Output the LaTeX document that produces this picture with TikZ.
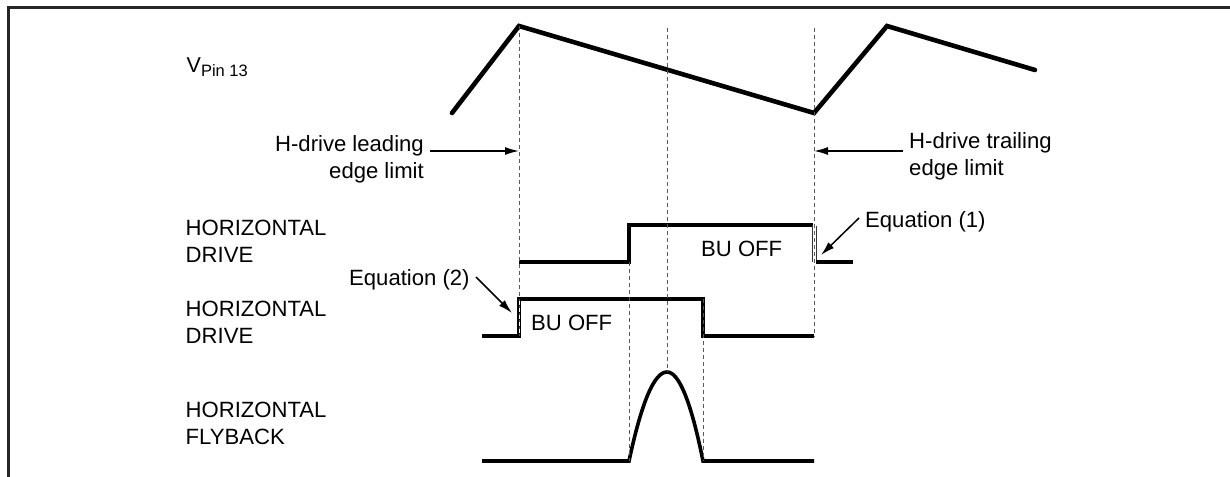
\documentclass[tikz,border=0pt]{standalone}
\usepackage{fontspec}
\setmainfont{Liberation Sans}
\usetikzlibrary{arrows.meta}
\begin{document}
\begin{tikzpicture}[x=1pt,y=-1pt,
  lbl/.style={inner sep=0pt, font=\fontsize{22.1}{26.8}\selectfont},
  wave/.style={line width=3.6pt, line join=miter},
  saw/.style={line width=4.6pt, line join=miter, line cap=round},
  guide/.style={black!65, line width=1pt, dash pattern=on 4pt off 3pt},
  arr/.style={line width=1.5pt, -{Latex[length=14pt,width=8pt]}},
  frame/.style={line width=2.2pt, black!85}]
\useasboundingbox (0,0) rectangle (1230,476);
% frame (left and top edges visible)
\draw[frame] (8.5,480) -- (8.5,7.5) -- (1234,7.5);

% guide lines
\coordinate (gA1) at (519,26);  \coordinate (gA2) at (519,336);
\coordinate (gB1) at (667,28);  \coordinate (gB2) at (667,372);
\coordinate (gC1) at (814,28);  \coordinate (gC2) at (814,337);
\coordinate (gD1) at (629,262); \coordinate (gD2) at (629,461);
\coordinate (gE1) at (703,299); \coordinate (gE2) at (703,461);

% sawtooth V pin 13
\coordinate (s0) at (452,113);
\coordinate (s1) at (519,26);
\coordinate (s2) at (814,113);
\coordinate (s3) at (887,26);
\coordinate (s4) at (1035,70);
\draw[saw] (s0) -- (s1) -- (s2) -- (s3) -- (s4);

% horizontal drive 1
\draw[wave] (519,262) -- (629,262) -- (629,225) -- (812.5,225);
\draw[line width=0.9pt, black!80] (812.5,225) -- (812.5,262);
\draw[line width=0.9pt, black!80] (816,226) -- (816,262);
\draw[wave] (816,262) -- (853,262);

% horizontal drive 2
\draw[wave] (482,336) -- (519,336) -- (519,299) -- (703,299) -- (703,336) -- (814,336);

% flyback
\draw[wave] (482,461) -- (629,461) .. controls (641.7,401.7) and (654.3,372) .. (667,372)
  .. controls (679,372) and (691,401.7) .. (703,461) -- (814,461);

% guides on top
\draw[guide] (gA1) -- (gA2);
\draw[guide] (gB1) -- (gB2);
\draw[guide] (gC1) -- (gC2);
\draw[guide] (gD1) -- (gD2);
\draw[guide] (gE1) -- (gE2);
\draw[white, line width=0.8pt, dash pattern=on 4pt off 3pt] (519,301) -- (519,334);

% labels
\node[inner sep=0pt, anchor=base west, font=\fontsize{21.5}{24}\selectfont] (vpin) at (186.5,72.7)
  {V\raisebox{-4pt}{\fontsize{16.5}{16.5}\selectfont Pin 13}};
\node[lbl, anchor=north west, align=left] (hd1) at (185.5,220) {HORIZONTAL\\DRIVE};
\node[lbl, anchor=north west, align=left] (hd2) at (185.5,301) {HORIZONTAL\\DRIVE};
\node[lbl, anchor=north west, align=left] (hfb) at (185.5,401.7) {HORIZONTAL\\FLYBACK};
\node[lbl, anchor=north east, align=right] (lead) at (424,135) {H-drive leading\\edge limit};
\node[lbl, anchor=north west, align=left] (trail) at (909,132) {H-drive trailing\\edge limit};
\node[lbl, anchor=base west] (eq1) at (865,227.5) {Equation (1)};
\node[lbl, anchor=base west] (eq2) at (349,285) {Equation (2)};
\node[lbl, anchor=base west] (bu1) at (701,256) {BU OFF};
\node[lbl, anchor=base west] (bu2) at (531,330) {BU OFF};

% arrows
\coordinate (leadT) at (430,151);  \coordinate (leadH) at (519,151);
\coordinate (trailT) at (903,151); \coordinate (trailH) at (814,151);
\coordinate (eq1T) at (859,218);   \coordinate (eq1H) at (821,255);
\coordinate (eq2T) at (476,277);   \coordinate (eq2H) at (512,313);
\draw[arr] (leadT) -- (leadH);
\draw[arr] (trailT) -- (trailH);
\draw[arr] (eq1T) -- (eq1H);
\draw[arr] (eq2T) -- (eq2H);
\end{tikzpicture}
\end{document}
